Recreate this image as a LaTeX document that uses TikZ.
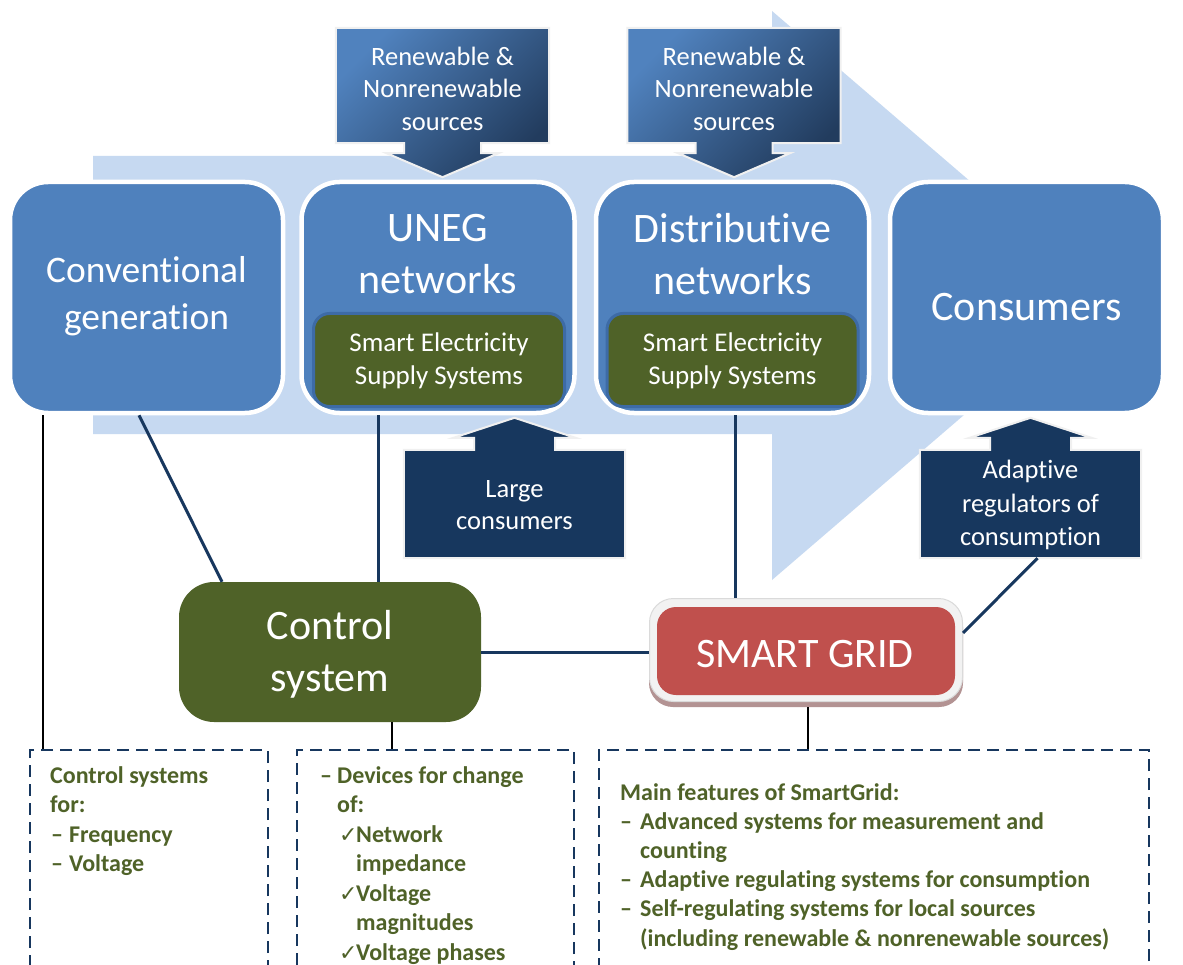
\documentclass[tikz,border=0pt]{standalone}
\usepackage{fontspec}
\setmainfont{Carlito}[Ligatures=NoCommon]
\newfontfamily\symfont{DejaVu Sans}
\usetikzlibrary{calc}

\definecolor{flowblue}{HTML}{C6D9F1}
\definecolor{boxblue}{HTML}{4F81BD}
\definecolor{rimblue}{HTML}{3D6BA6}
\definecolor{olive}{HTML}{4F6228}
\definecolor{navy}{HTML}{17375E}
\definecolor{srclight}{HTML}{5082BE}
\definecolor{srcdark}{HTML}{223C5E}
\definecolor{gridred}{HTML}{C0504D}
\definecolor{framegray}{HTML}{F2F2F2}
\definecolor{frameedge}{HTML}{DADADA}
\definecolor{gridshadow}{HTML}{B39393}

\newcommand\chk{{\symfont\fontsize{22}{22}\selectfont ✓}}

\pgfdeclarelayer{paper}
\pgfdeclarelayer{flow}
\pgfdeclarelayer{callout}
\pgfsetlayers{paper,flow,callout,main}

\begin{document}
\begin{tikzpicture}[x=1pt,y=-1pt,
  stage/.style={draw=white, line width=4.5pt, fill=boxblue, rounded corners=38pt,
    minimum width=273pt, minimum height=231pt, inner sep=0pt},
  bigtext/.style={text=white, align=center, inner sep=0pt, font=\fontsize{42}{52}\selectfont},
  smalltext/.style={text=white, align=center, inner sep=0pt, font=\fontsize{26.5}{32.5}\selectfont},
  sess/.style={draw=rimblue, line width=3pt, fill=olive, rounded corners=16pt,
    minimum width=251pt, minimum height=93pt, inner sep=0pt},
  srcbox/.style={minimum width=213pt, minimum height=115pt, inner sep=0pt},
  loadbox/.style={minimum width=221pt, minimum height=108pt, inner sep=0pt},
  srcshape/.style={draw=white!88!gray, line width=2pt, top color=srclight,
    bottom color=srcdark, shading angle=45},
  loadshape/.style={draw=white!88!gray, line width=2pt, fill=navy},
  link/.style={draw=navy, line width=3pt},
  tick/.style={draw=black, line width=1.5pt},
  notebox/.style={draw=navy, line width=2.2pt, dash pattern=on 12pt off 7pt,
    minimum height=250pt, inner sep=0pt},
  notetext/.style={anchor=north west, inner sep=0pt, align=left, text=olive,
    font=\bfseries\fontsize{24}{29.5}\selectfont}
]
\useasboundingbox (0,0) rectangle (1183,965);
\clip (0,0) rectangle (1183,965);
\begin{pgfonlayer}{paper}
  \fill[white] (0,0) rectangle (1183,965);
\end{pgfonlayer}

% broad flow arrow behind the chain of stages
\begin{pgfonlayer}{flow}
  \fill[flowblue] (93,156) -- (772,156) -- (772,11) -- (1103,295.5)
    -- (772,580) -- (772,434) -- (93,434) -- cycle;
\end{pgfonlayer}

% supply sources and loads
\node[srcbox] (src1) at (442.5,85.5) {};
\node[srcbox] (src2) at (734,85.5) {};
\node[loadbox] (large) at (514.5,504) {};
\node[loadbox] (adapt) at (1030.5,504) {};

\begin{pgfonlayer}{callout}
  \foreach \n in {src1,src2}{
    \path[srcshape] (\n.north west) -- (\n.north east) -- (\n.south east)
      -- ($(\n.south)+(38.5,0)$) -- ($(\n.south)+(38.5,10)$) -- ($(\n.south)+(56,10)$)
      -- ($(\n.south)+(0,34)$) -- ($(\n.south)+(-56,10)$) -- ($(\n.south)+(-38.5,10)$)
      -- ($(\n.south)+(-38.5,0)$) -- (\n.south west) -- cycle;
  }
  \foreach \n in {large,adapt}{
    \path[loadshape] (\n.south west) -- (\n.north west)
      -- ($(\n.north)+(-40.5,0)$) -- ($(\n.north)+(-40.5,-12)$) -- ($(\n.north)+(-61,-12)$)
      -- ($(\n.north)+(0,-32)$) -- ($(\n.north)+(61,-12)$) -- ($(\n.north)+(40.5,-12)$)
      -- ($(\n.north)+(40.5,0)$) -- (\n.north east) -- (\n.south east) -- cycle;
  }
\end{pgfonlayer}

\node[smalltext] (src1T) at ([yshift=-3pt]src1.center) {Renewable \&\\Nonrenewable\\sources};
\node[smalltext] (src2T) at ([yshift=-3pt]src2.center) {Renewable \&\\Nonrenewable\\sources};
\node[smalltext, font=\fontsize{26.5}{32}\selectfont] (largeT) at ([yshift=-1pt]large.center) {Large\\consumers};
\node[smalltext, font=\fontsize{26.5}{33.5}\selectfont] (adaptT) at ([yshift=-1pt]adapt.center) {Adaptive\\regulators of\\consumption};

% the four stages
\node[stage] (conv) at (146.5,297.5) {};
\node[stage] (uneg) at (438,297.5) {};
\node[stage] (dist) at (732.5,297.5) {};
\node[stage] (cons) at (1026.5,297.5) {};

\node[bigtext, font=\fontsize{37.5}{47}\selectfont] (convT) at (146.5,296) {Conventional\\generation};
\node[bigtext] (unegT) at (438,254) {UNEG\\networks};
\node[bigtext] (distT) at (732.5,254) {Distributive\\networks};
\node[bigtext] (consT) at (1026.5,307) {Consumers};

\node[sess] (sess1) at (439,360) {};
\node[sess] (sess2) at (732.5,360) {};
\node[smalltext, font=\fontsize{27}{33}\selectfont] (sess1T) at (439,361) {Smart Electricity\\Supply Systems};
\node[smalltext, font=\fontsize{27}{33}\selectfont] (sess2T) at (732.5,361) {Smart Electricity\\Supply Systems};

% control system and smart grid
\node[fill=olive, rounded corners=35pt, minimum width=302pt, minimum height=140pt,
  inner sep=0pt] (ctrl) at (330,652) {};
\node[bigtext] (ctrlT) at (330,654) {Control\\system};

\node[fill=gridshadow, rounded corners=24pt, minimum width=314pt, minimum height=104pt,
  inner sep=0pt] (sgshadow) at (806,655) {};
\node[fill=framegray, draw=frameedge, line width=1pt, rounded corners=24pt,
  minimum width=313pt, minimum height=103pt, inner sep=0pt] (sgframe) at (806,650) {};
\node[fill=gridred, rounded corners=19pt, minimum width=298pt, minimum height=88pt,
  inner sep=0pt] (sg) at (806,651) {};
\node[bigtext] (sgT) at (805,654) {SMART GRID};

% connectors
\draw[link] ([xshift=-7.5pt]conv.south) -- ([xshift=-108pt]ctrl.north);
\draw[link] ([xshift=-60pt]uneg.south) -- ([xshift=-60pt]uneg.south |- ctrl.north);
\draw[link] (ctrl.east) -- (ctrl.east -| sgframe.west);
\draw[link] ([xshift=2.5pt]dist.south) -- ([xshift=2.5pt]dist.south |- sgframe.north);
\draw[link] ([xshift=7pt]adapt.south) -- ([yshift=17pt]sgframe.east);

% notes
\node[notebox, minimum width=238pt] (note1) at (149,875) {};
\node[notebox, minimum width=277pt] (note2) at (435.5,875) {};
\node[notebox, minimum width=550pt] (note3) at (874,875) {};

\draw[tick] ([xshift=-103.5pt]conv.south) -- ([xshift=-103.5pt]conv.south |- note1.north);
\draw[tick] ([xshift=62pt]ctrl.south) -- ([xshift=62pt]ctrl.south |- note2.north);
\draw[tick] ([xshift=2pt]sgshadow.south) -- ([xshift=2pt]sgshadow.south |- note3.north);

\node[notetext] (note1T) at (50,766) {Control systems\\for:\\
  \makebox[19pt][l]{\hspace*{1pt}–}Frequency\\
  \makebox[19pt][l]{\hspace*{1pt}–}Voltage};

\node[notetext] (note2T) at (320,766) {\makebox[17pt][l]{–}Devices for change\\
  \hspace*{17pt}of:\\
  \hspace*{19pt}\makebox[17pt][l]{\chk}Network\\
  \hspace*{36pt}impedance\\
  \hspace*{19pt}\makebox[17pt][l]{\chk}Voltage\\
  \hspace*{36pt}magnitudes\\
  \hspace*{19pt}\makebox[17pt][l]{\chk}Voltage phases};

\node[notetext, font=\bfseries\fontsize{24}{29.2}\selectfont] (note3T) at (620,783)
  {Main features of SmartGrid:\\
  \makebox[20pt][l]{–}Advanced systems for measurement and\\
  \hspace*{20pt}counting\\
  \makebox[20pt][l]{–}Adaptive regulating systems for consumption\\
  \makebox[20pt][l]{–}Self-regulating systems for local sources\\
  \hspace*{20pt}(including renewable \& nonrenewable sources)};
\end{tikzpicture}
\end{document}
